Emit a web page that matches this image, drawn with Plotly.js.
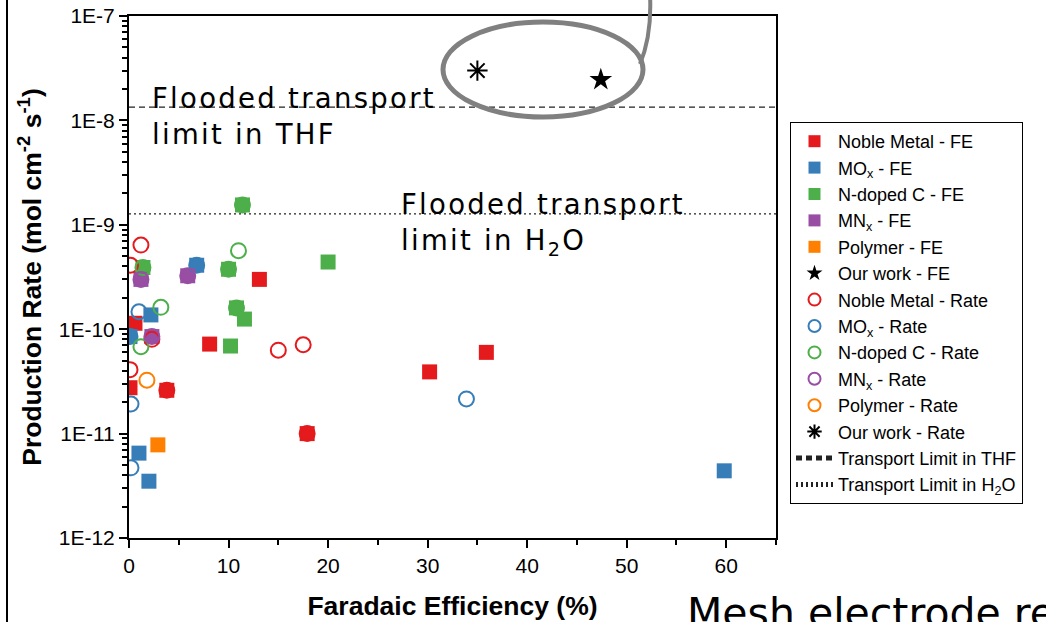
<!DOCTYPE html>
<html><head><meta charset="utf-8">
<script src="https://cdn.plot.ly/plotly-3.0.1.min.js"></script>
<style>
html,body{margin:0;padding:0;background:#fff;}
#chart{width:1046px;height:622px;}
g.annotation[data-index="0"] text, g.annotation[data-index="1"] text {letter-spacing:2.3px;}
</style>
</head><body><div id="chart"></div>
<script>
// ---- data ----
const nobleFE_x = [13.1, 8.1, 35.9, 30.2, 0.6, 0.1, 3.8, 17.9];
const nobleFE_y = [3.0e-10, 7.2e-11, 6.0e-11, 3.9e-11, 1.14e-10, 2.75e-11, 2.6e-11, 1.0e-11];
const moxFE_x = [6.8, 2.2, 0.1, 1.0, 2.0, 59.8];
const moxFE_y = [4.1e-10, 1.37e-10, 8.5e-11, 6.5e-12, 3.5e-12, 4.4e-12];
const ndcFE_x = [11.4, 1.4, 10.0, 20.0, 10.8, 11.6, 10.2];
const ndcFE_y = [1.55e-9, 3.9e-10, 3.75e-10, 4.4e-10, 1.6e-10, 1.25e-10, 6.9e-11];
const mnxFE_x = [1.2, 5.9, 2.3];
const mnxFE_y = [3.0e-10, 3.25e-10, 8.5e-11];
const polyFE_x = [2.9];
const polyFE_y = [7.8e-12];
const ourFE_x = [47.4];
const ourFE_y = [2.45e-8];

const nobleRate_x = [1.2, 0.15, 15.0, 17.5, 0.1, 2.3, 3.8, 17.9];
const nobleRate_y = [6.4e-10, 4.1e-10, 6.3e-11, 7.1e-11, 4.1e-11, 8.0e-11, 2.6e-11, 1.0e-11];
const moxRate_x = [1.0, 0.1, 6.8, 0.2, 0.2, 33.9];
const moxRate_y = [1.47e-10, 8.5e-11, 4.1e-10, 1.92e-11, 4.7e-12, 2.15e-11];
const ndcRate_x = [11.0, 3.2, 1.2, 11.4, 1.4, 10.0, 10.8];
const ndcRate_y = [5.65e-10, 1.62e-10, 6.8e-11, 1.55e-9, 3.9e-10, 3.75e-10, 1.6e-10];
const mnxRate_x = [1.2, 5.9, 2.3];
const mnxRate_y = [3.0e-10, 3.25e-10, 8.5e-11];
const polyRate_x = [1.8];
const polyRate_y = [3.25e-11];
const ourRate_x = [35.0];
const ourRate_y = [3.0e-8];

const limitX = [0, 65];
const thfLimit_y = [1.34e-8, 1.34e-8];
const h2oLimit_y = [1.27e-9, 1.27e-9];

const yTickVals = [1e-12, 1e-11, 1e-10, 1e-9, 1e-8, 1e-7];
const yTickText = ['1E-12', '1E-11', '1E-10', '1E-9', '1E-8', '1E-7'];
const yDecades = [1e-12, 1e-11, 1e-10, 1e-9, 1e-8];
const yMinorMult = [2, 3, 4, 5, 6, 7, 8, 9];
const yMinorVals = [];
yDecades.forEach(d => yMinorMult.forEach(m => yMinorVals.push(d * m)));

const C = {red: '#E41A1C', blue: '#377EB8', green: '#4DAF4A', purple: '#984EA3', orange: '#FF7F00'};
const AR = 'Liberation Sans, Arial, sans-serif';
const CALLOUT = 'DejaVu Sans, sans-serif';

function fe(name, x, y, color) {
  return {type: 'scatter', mode: 'markers', name, x, y,
    marker: {symbol: 'square', size: 15, color, line: {width: 0}}};
}
function rate(name, x, y, color) {
  return {type: 'scatter', mode: 'markers', name, x, y,
    marker: {symbol: 'circle-open', size: 15, color, line: {width: 2, color}}};
}

const traces = [
  fe('Noble Metal - FE', nobleFE_x, nobleFE_y, C.red),
  fe('MO<sub>x</sub> - FE', moxFE_x, moxFE_y, C.blue),
  fe('N-doped C - FE', ndcFE_x, ndcFE_y, C.green),
  fe('MN<sub>x</sub> - FE', mnxFE_x, mnxFE_y, C.purple),
  fe('Polymer - FE', polyFE_x, polyFE_y, C.orange),
  {type: 'scatter', mode: 'markers', name: 'Our work - FE', x: ourFE_x, y: ourFE_y,
    marker: {symbol: 'star', size: 17, color: '#000'}},
  rate('Noble Metal - Rate', nobleRate_x, nobleRate_y, C.red),
  rate('MO<sub>x</sub> - Rate', moxRate_x, moxRate_y, C.blue),
  rate('N-doped C - Rate', ndcRate_x, ndcRate_y, C.green),
  rate('MN<sub>x</sub> - Rate', mnxRate_x, mnxRate_y, C.purple),
  rate('Polymer - Rate', polyRate_x, polyRate_y, C.orange),
  {type: 'scatter', mode: 'markers', name: 'Our work - Rate', x: ourRate_x, y: ourRate_y,
    marker: {symbol: 'asterisk-open', size: 17, color: '#000', line: {width: 2, color: '#000'}}},
  {type: 'scatter', mode: 'lines', name: 'Transport Limit in THF', x: limitX, y: thfLimit_y,
    line: {color: '#222', width: 1.2, dash: '6px,4px'}},
  {type: 'scatter', mode: 'lines', name: 'Transport Limit in H<sub>2</sub>O', x: limitX, y: h2oLimit_y,
    line: {color: '#222', width: 1.2, dash: '2px,3px'}}
];

const pxX = p => (p - 129) / 647;
const pxY = p => (538 - p) / 522;

const layout = {
  width: 1046, height: 622,
  margin: {l: 129, r: 270, t: 16, b: 84, pad: 0},
  paper_bgcolor: '#fff', plot_bgcolor: '#fff',
  showlegend: true,
  font: {family: AR, color: '#000'},
  xaxis: {
    range: [0, 65], dtick: 10, tick0: 0,
    showline: true, linewidth: 2, linecolor: '#000', mirror: true,
    ticks: 'outside', ticklen: 8, tickwidth: 2, tickcolor: '#000',
    minor: {dtick: 5, ticks: 'outside', ticklen: 5, tickwidth: 2, tickcolor: '#000'},
    showgrid: false, zeroline: false,
    tickfont: {family: AR, size: 21, color: '#000'},
    title: {text: '<b>Faradaic Efficiency (%)</b>', font: {family: AR, size: 26.5, color: '#000'}, standoff: 20}
  },
  yaxis: {
    type: 'log', range: [-12, -7],
    tickmode: 'array', tickvals: yTickVals, ticktext: yTickText,
    showline: true, linewidth: 2, linecolor: '#000', mirror: true,
    ticks: 'outside', ticklen: 8, tickwidth: 2, tickcolor: '#000',
    minor: {tickmode: 'array', tickvals: yMinorVals, ticks: 'outside', ticklen: 5, tickwidth: 2, tickcolor: '#000', showgrid: false},
    showgrid: false, zeroline: false,
    tickfont: {family: AR, size: 21, color: '#000'},
    title: {text: '<b>Production Rate (mol cm<sup>-2</sup> s<sup>-1</sup>)</b>', font: {family: AR, size: 26.5, color: '#000'}, standoff: 9}
  },
  legend: {
    x: pxX(790), xanchor: 'left', y: pxY(122), yanchor: 'top',
    bgcolor: '#fff', bordercolor: '#000', borderwidth: 1,
    font: {family: AR, size: 18, color: '#000'},
    tracegroupgap: 0, itemsizing: 'constant', itemwidth: 37
  },
  shapes: [
    {type: 'circle', xref: 'paper', yref: 'paper', x0: pxX(443), x1: pxX(643), y0: pxY(117), y1: pxY(22),
      line: {color: '#808080', width: 5}},
    {type: 'path', xref: 'paper', yref: 'paper',
      path: `M ${pxX(640)},${pxY(64)} Q ${pxX(652)},${pxY(35)} ${pxX(650)},${pxY(-5)}`,
      line: {color: '#808080', width: 4}},
    {type: 'line', xref: 'paper', yref: 'paper', x0: pxX(7), x1: pxX(7), y0: pxY(630), y1: pxY(-10),
      line: {color: '#000', width: 2}}
  ],
  annotations: [
    {xref: 'paper', yref: 'paper', x: pxX(150), y: pxY(116), xanchor: 'left', yanchor: 'middle', align: 'left',
      showarrow: false, text: 'Flooded transport<br>limit in THF',
      font: {family: CALLOUT, size: 27.5, color: '#000'}},
    {xref: 'paper', yref: 'paper', x: pxX(399), y: pxY(224), xanchor: 'left', yanchor: 'middle', align: 'left',
      showarrow: false, text: 'Flooded transport<br>limit in H<sub>2</sub>O',
      font: {family: CALLOUT, size: 27.5, color: '#000'}},
    {xref: 'paper', yref: 'paper', x: pxX(685), y: pxY(587), xanchor: 'left', yanchor: 'top', align: 'left',
      showarrow: false, text: 'Mesh electrode re',
      font: {family: CALLOUT, size: 41, color: '#000'}}
  ]
};

Plotly.newPlot('chart', traces, layout, {displayModeBar: false, responsive: false});
</script>
</body></html>
